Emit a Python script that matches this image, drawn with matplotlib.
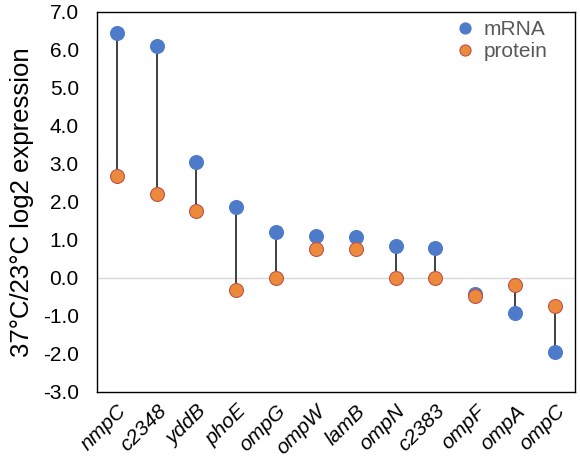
import numpy as np
import matplotlib
matplotlib.use("Agg")
import matplotlib.pyplot as plt

plt.rcParams['font.family'] = ['Liberation Sans', 'DejaVu Sans']

# data
genes = ['nmpC', 'c2348', 'yddB', 'phoE', 'ompG', 'ompW',
         'lamB', 'ompN', 'c2383', 'ompF', 'ompA', 'ompC']
mrna = [6.45, 6.1, 3.05, 1.87, 1.2, 1.1, 1.08, 0.85, 0.8, -0.43, -0.93, -1.95]
protein = [2.68, 2.2, 1.77, -0.33, 0.0, 0.75, 0.75, 0.0, 0.0, -0.47, -0.2, -0.75]
y_ticks = np.arange(-3.0, 7.01, 1.0)

BLUE = '#4D7BCA'
ORANGE = '#EC8A3C'

fig = plt.figure(figsize=(5.8, 4.61), dpi=100)
ax = fig.add_axes([0.167, 0.150, 0.824, 0.824])

x = np.arange(len(genes))
ax.axhline(0, color='#d9d9d9', lw=1.0, zorder=1)
ax.vlines(x, protein, mrna, color='#404040', lw=1.4, zorder=2)
ax.plot(x, mrna, 'o', ms=10, color=BLUE, mec=BLUE, mew=0.8, ls='none',
        label='mRNA', zorder=3)
ax.plot(x, protein, 'o', ms=10, color=ORANGE, mec='#C0504D', mew=0.8, ls='none',
        label='protein', zorder=4)

ax.set_xlim(-0.5, len(genes) - 0.5)
ax.set_ylim(-3.0, 7.0)
ax.set_yticks(y_ticks)
ax.set_yticklabels([f'{v:.1f}' for v in y_ticks], fontsize=15)
ax.set_xticks(x)
ax.set_xticklabels(genes, rotation=45, ha='right', rotation_mode='anchor',
                   fontsize=15, style='italic')
ax.tick_params(axis='y', length=0, pad=13)
ax.tick_params(axis='x', length=0, pad=7)
ax.set_ylabel('37°C/23°C log2 expression', fontsize=18.5, labelpad=6)

for s in ax.spines.values():
    s.set_color('black')
    s.set_linewidth(1.0)

leg = ax.legend(loc='upper right', frameon=False, fontsize=15, handletextpad=-0.1,
                borderaxespad=0.0, labelspacing=0.15, markerscale=0.8,
                bbox_to_anchor=(0.96, 1.0))
for t in leg.get_texts():
    t.set_color('#595959')

fig.savefig('out.png', dpi=100)
